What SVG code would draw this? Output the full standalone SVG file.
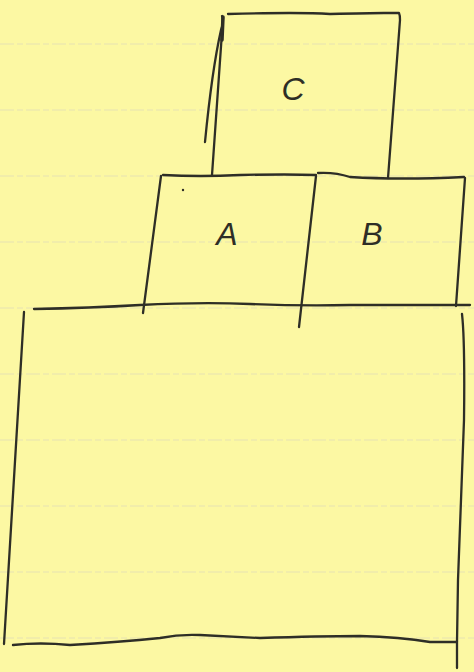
<svg xmlns="http://www.w3.org/2000/svg" width="474" height="672" viewBox="0 0 474 672">
<defs>
<style>
.pen{fill:none;stroke:#2e2e26;stroke-width:2.3;stroke-linecap:round;stroke-linejoin:round}
.rule{stroke:#e6e2b2;stroke-width:1;stroke-dasharray:14 3 6 3}
.lbl{font-family:"Liberation Sans",Arial,sans-serif;font-style:italic;font-size:32px;fill:#2e2e26;text-anchor:middle}
</style>
</defs>
<rect width="474" height="672" fill="#fcf8a3"/>
<g id="rules">
<line class="rule" x1="0" y1="44" x2="474" y2="44"/>
<line class="rule" x1="0" y1="110" x2="474" y2="110"/>
<line class="rule" x1="0" y1="176" x2="474" y2="176"/>
<line class="rule" x1="0" y1="242" x2="474" y2="242"/>
<line class="rule" x1="0" y1="308" x2="474" y2="308"/>
<line class="rule" x1="0" y1="374" x2="474" y2="374"/>
<line class="rule" x1="0" y1="440" x2="474" y2="440"/>
<line class="rule" x1="0" y1="506" x2="474" y2="506"/>
<line class="rule" x1="0" y1="572" x2="474" y2="572"/>
<line class="rule" x1="0" y1="638" x2="474" y2="638"/>
</g>
<g id="C">
<path class="pen" d="M228,14 Q300,12 330,14 Q370,13 384,13 L399,13 Q400,15 400,20 L388,178"/>
<path class="pen" d="M223,18 L212,175"/>
<path class="pen" d="M222,16 Q224,22 221,30 Q212,70 205,142"/>
<path class="pen" style="stroke-width:3.5" d="M223,17 L222,40"/>
<text class="lbl" x="293" y="100">C</text>
</g>
<g id="A">
<path class="pen" d="M163,175 Q200,177 240,175 Q290,174 316,175"/>
<path class="pen" d="M161,176 L143,313"/>
<circle cx="183" cy="190" r="1.2" fill="#2e2e26"/>
<text class="lbl" x="227" y="245">A</text>
</g>
<g id="B">
<path class="pen" d="M318,173 Q335,172 350,177 Q400,180 464,177"/>
<path class="pen" d="M316,176 L299,327"/>
<path class="pen" d="M465,178 L456,306"/>
<text class="lbl" x="372" y="245">B</text>
</g>
<g id="base">
<path class="pen" d="M34,309 Q90,308 140,305 Q200,302 250,304 Q300,306 350,305 Q400,305 470,305"/>
<path class="pen" d="M24,312 L4,644"/>
<path class="pen" d="M462,314 Q465,340 464,420 Q460,520 458,580 L457,642 L457,668"/>
<path class="pen" d="M13,645 Q40,642 70,645 Q120,642 160,638 Q180,634 200,635 Q240,637 260,638 Q320,636 360,636 Q400,637 430,642 L457,642"/>
</g>
<g id="connectors"/>
</svg>
